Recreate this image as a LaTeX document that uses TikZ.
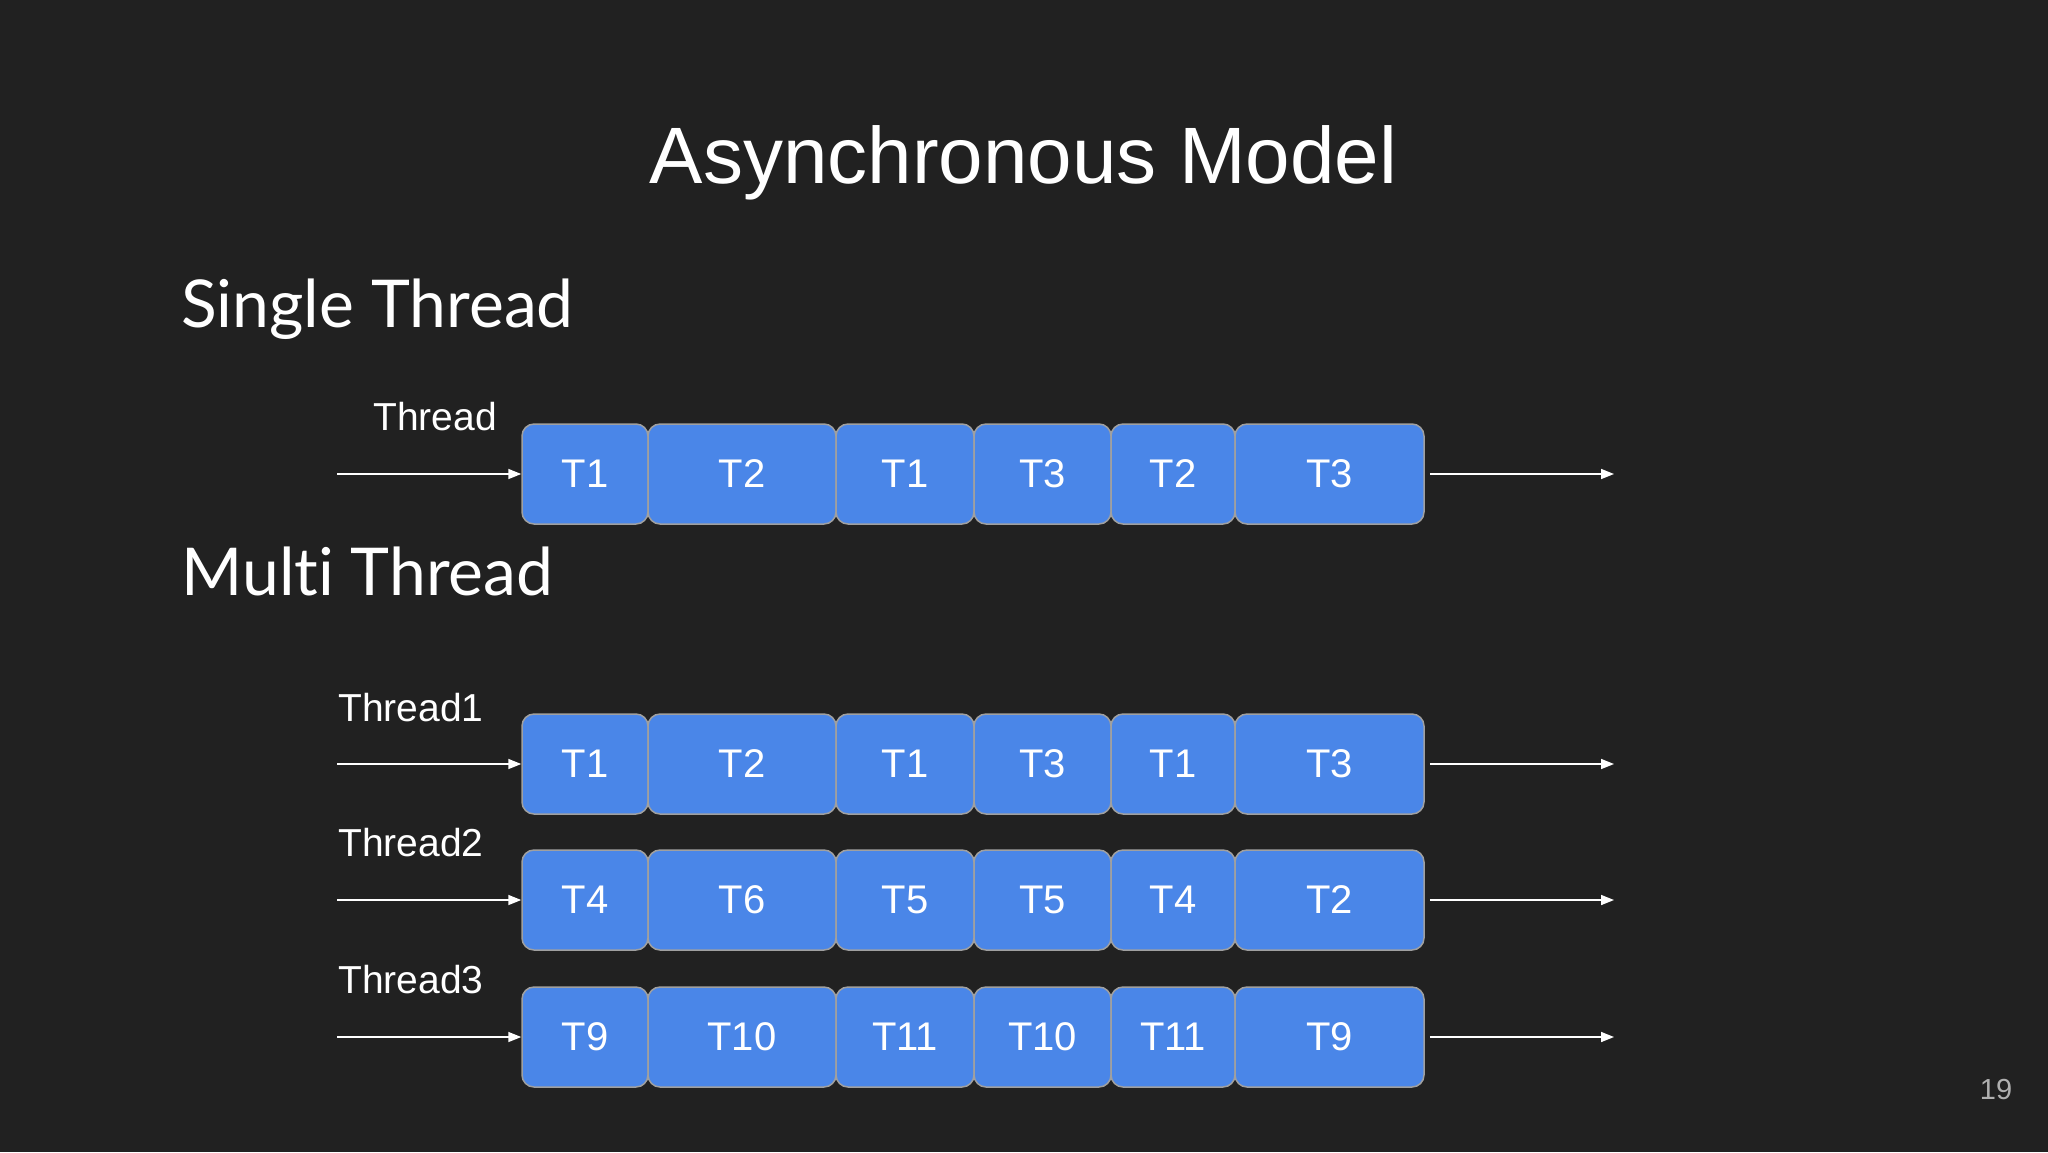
\documentclass[tikz,border=0pt]{standalone}
\usepackage{fontspec}
\setmainfont{Liberation Sans}
\newfontfamily\headfont[Ligatures={NoCommon,NoRare,NoContextual}]{Lato}
\usetikzlibrary{arrows.meta}
\definecolor{bgc}{HTML}{212121}
\definecolor{taskfill}{HTML}{4A86E8}
\definecolor{taskline}{HTML}{A0A0A0}
\definecolor{pagegrey}{HTML}{B0B0B0}
\tikzset{
  task/.style={draw=taskline, fill=taskfill, line width=0.75pt, rounded corners=6pt,
    minimum height=50pt, inner sep=0pt, text=white, font=\fontsize{20}{24}\selectfont},
  arr/.style={draw=white, line width=0.8pt, -{Triangle[length=6.5pt,width=5pt]}},
  lbl/.style={anchor=base west, inner sep=0pt, text=white, font=\fontsize{19.5}{23}\selectfont},
  heading/.style={anchor=base west, inner sep=0pt, text=white, font=\headfont\fontsize{33}{40}\selectfont},
}
\newcommand\mytaskrow[8]{%
  \node[task, minimum width=63pt]   (#1a) at (585,#2)    {#3};
  \node[task, minimum width=94pt]   (#1b) at (742,#2)    {#4};
  \node[task, minimum width=69pt]   (#1c) at (905,#2)    {#5};
  \node[task, minimum width=68.5pt] (#1d) at (1042.5,#2) {#6};
  \node[task, minimum width=62pt]   (#1e) at (1173,#2)   {#7};
  \node[task, minimum width=94.5pt] (#1f) at (1329.5,#2) {#8};
  \coordinate (#1s) at (337,#2);
  \coordinate (#1t) at (1614,#2);
  \draw[arr] (#1s) -- (#1a.west);
  \draw[arr] ([xshift=2.5pt]#1f.east) -- (#1t);
}
\begin{document}
\begin{tikzpicture}[x=0.5pt,y=-0.5pt]
\fill[bgc] (0,0) rectangle (2048,1152);
\useasboundingbox (0,0) rectangle (2048,1152);
\node[anchor=base, inner sep=0pt, text=white, font=\fontsize{40}{48}\selectfont] (title) at (1023.5,183) {Asynchronous Model};
\node[heading] (single) at (181,327) {Single Thread};
\node[heading] (multi) at (181,595) {Multi Thread};
\node[lbl] (l0) at (373,430) {Thread};
\node[lbl] (l1) at (338,721) {Thread1};
\node[lbl] (l2) at (338,856) {Thread2};
\node[lbl] (l3) at (338,993) {Thread3};
\mytaskrow{r0}{474}{T1}{T2}{T1}{T3}{T2}{T3}
\mytaskrow{r1}{764}{T1}{T2}{T1}{T3}{T1}{T3}
\mytaskrow{r2}{900}{T4}{T6}{T5}{T5}{T4}{T2}
\mytaskrow{r3}{1037}{T9}{T10}{T11}{T10}{T11}{T9}
\node[anchor=base, inner sep=0pt, text=pagegrey, font=\fontsize{14.5}{17}\selectfont] (page) at (1996,1099) {19};
\end{tikzpicture}
\end{document}
